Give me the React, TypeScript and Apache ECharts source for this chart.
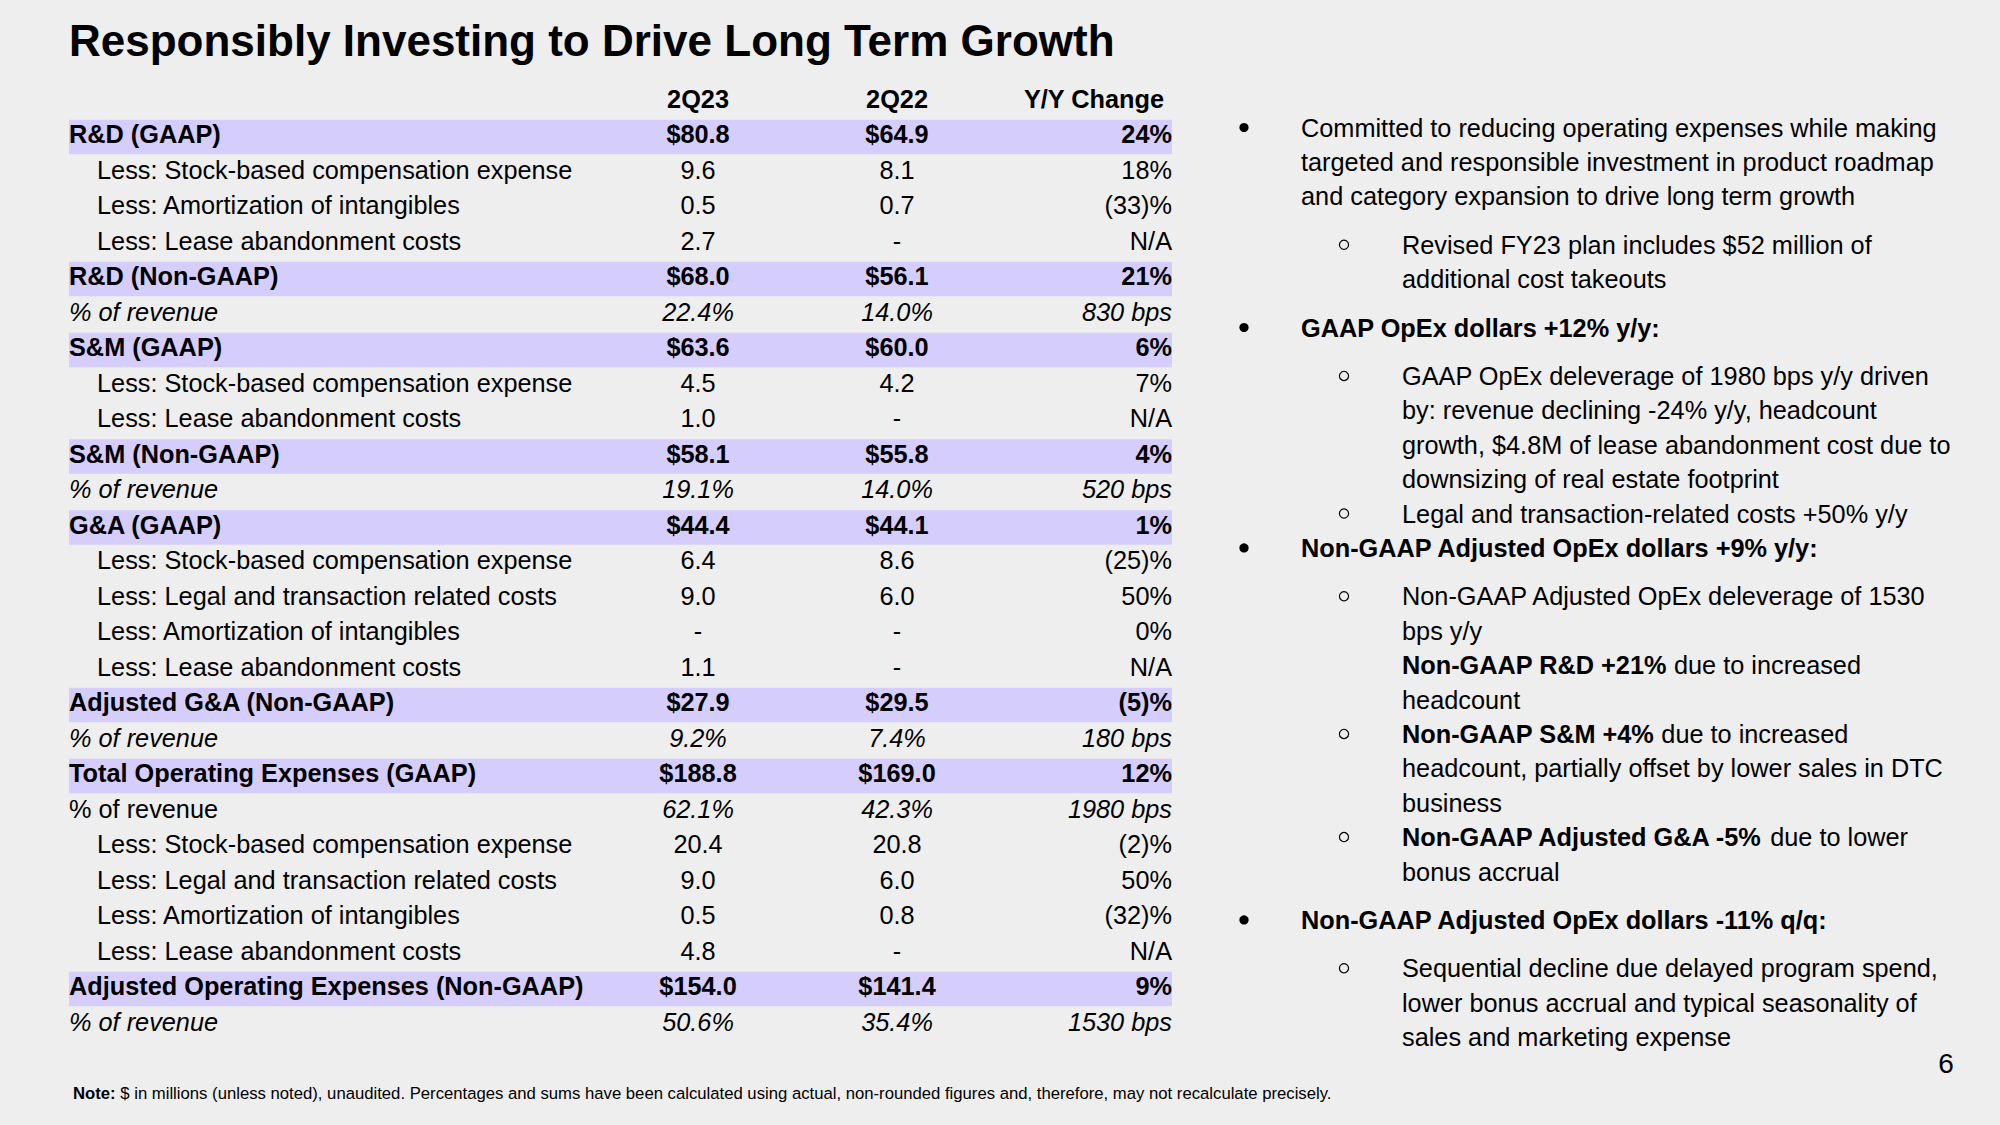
import React, { useEffect, useRef } from "react";
import * as echarts from "echarts";

const FONT = "'Liberation Sans', Arial, Helvetica, sans-serif";
const PURPLE = "#D5CDFB";
const BG = "#EEEEEE";

const titleText = "Responsibly Investing to Drive Long Term Growth";
const columnHeaders = ["2Q23", "2Q22", "Y/Y Change"];

const rowLabels = [
  "R&D (GAAP)",
  "Less: Stock-based compensation expense",
  "Less: Amortization of intangibles",
  "Less: Lease abandonment costs",
  "R&D (Non-GAAP)",
  "% of revenue",
  "S&M (GAAP)",
  "Less: Stock-based compensation expense",
  "Less: Lease abandonment costs",
  "S&M (Non-GAAP)",
  "% of revenue",
  "G&A (GAAP)",
  "Less: Stock-based compensation expense",
  "Less: Legal and transaction related costs",
  "Less: Amortization of intangibles",
  "Less: Lease abandonment costs",
  "Adjusted G&A (Non-GAAP)",
  "% of revenue",
  "Total Operating Expenses (GAAP)",
  "% of revenue",
  "Less: Stock-based compensation expense",
  "Less: Legal and transaction related costs",
  "Less: Amortization of intangibles",
  "Less: Lease abandonment costs",
  "Adjusted Operating Expenses (Non-GAAP)",
  "% of revenue",
];

const rowKinds = [
  "total", "sub", "sub", "sub", "total", "pct",
  "total", "sub", "sub", "total", "pct",
  "total", "sub", "sub", "sub", "sub", "total", "pct",
  "total", "pctPlain", "sub", "sub", "sub", "sub", "total", "pct",
];

const values2Q23 = [
  "$80.8", "9.6", "0.5", "2.7", "$68.0", "22.4%",
  "$63.6", "4.5", "1.0", "$58.1", "19.1%",
  "$44.4", "6.4", "9.0", "-", "1.1", "$27.9", "9.2%",
  "$188.8", "62.1%", "20.4", "9.0", "0.5", "4.8", "$154.0", "50.6%",
];

const values2Q22 = [
  "$64.9", "8.1", "0.7", "-", "$56.1", "14.0%",
  "$60.0", "4.2", "-", "$55.8", "14.0%",
  "$44.1", "8.6", "6.0", "-", "-", "$29.5", "7.4%",
  "$169.0", "42.3%", "20.8", "6.0", "0.8", "-", "$141.4", "35.4%",
];

const yoyChange = [
  "24%", "18%", "(33)%", "N/A", "21%", "830 bps",
  "6%", "7%", "N/A", "4%", "520 bps",
  "1%", "(25)%", "50%", "0%", "N/A", "(5)%", "180 bps",
  "12%", "1980 bps", "(2)%", "50%", "(32)%", "N/A", "9%", "1530 bps",
];

// Right-hand commentary: level 1 = ●, 2 = ○, 0 = continuation line, 3 = sub-level without marker
const noteLevels = [1, 0, 0, 2, 0, 1, 2, 0, 0, 0, 2, 1, 2, 0, 3, 0, 2, 0, 0, 2, 0, 1, 2, 0, 0];
const noteIndent = [1, 1, 1, 2, 2, 1, 2, 2, 2, 2, 2, 1, 2, 2, 2, 2, 2, 2, 2, 2, 2, 1, 2, 2, 2];
const noteGapBefore = [0, 0, 0, 1, 0, 1, 1, 0, 0, 0, 0, 0, 1, 0, 0, 0, 0, 0, 0, 0, 0, 1, 1, 0, 0];
const noteLines = [
  "Committed to reducing operating expenses while making",
  "targeted and responsible investment in product roadmap",
  "and category expansion to drive long term growth",
  "Revised FY23 plan includes $52 million of",
  "additional cost takeouts",
  "{b|GAAP OpEx dollars +12% y/y:}",
  "GAAP OpEx deleverage of 1980 bps y/y driven",
  "by: revenue declining -24% y/y, headcount",
  "growth, $4.8M of lease abandonment cost due to",
  "downsizing of real estate footprint",
  "Legal and transaction-related costs +50% y/y",
  "{b|Non-GAAP Adjusted OpEx dollars +9% y/y:}",
  "Non-GAAP Adjusted OpEx deleverage of 1530",
  "bps y/y",
  "{b|Non-GAAP R&D +21%} due to increased",
  "headcount",
  "{b|Non-GAAP S&M +4%} due to increased",
  "headcount, partially offset by lower sales in DTC",
  "business",
  "{b|Non-GAAP Adjusted G&A -5%} due to lower",
  "bonus accrual",
  "{b|Non-GAAP Adjusted OpEx dollars -11% q/q:}",
  "Sequential decline due delayed program spend,",
  "lower bonus accrual and typical seasonality of",
  "sales and marketing expense",
];

const footNote =
  "{b|Note:} $ in millions (unless noted), unaudited. Percentages and sums have been calculated using actual, non-rounded figures and, therefore, may not recalculate precisely.";
const pageNumber = "6";

const FS = 25.3;
const TEXT_DY = -3;

function textEl(
  text: string,
  x: number,
  y: number,
  align: string,
  bold: boolean,
  italic: boolean,
  size = FS
) {
  return {
    type: "text",
    style: {
      text,
      x,
      y,
      align,
      verticalAlign: "middle",
      textAlign: align,
      textVerticalAlign: "middle",
      fill: "#000",
      fontSize: size,
      fontWeight: bold ? "bold" : "normal",
      fontStyle: italic ? "italic" : "normal",
      fontFamily: FONT,
    },
  };
}

export default function App() {
  const ref = useRef<HTMLDivElement>(null);

  useEffect(() => {
    if (!ref.current) return;
    const chart = echarts.init(ref.current, undefined, { renderer: "svg" });

    const categories = ["header", ...rowLabels];

    const graphics: any[] = [];
    graphics.push({
      type: "text",
      left: 69,
      top: 18,
      style: {
        text: titleText,
        fill: "#000",
        fontSize: 44,
        fontWeight: "bold",
        fontFamily: FONT,
      },
    });

    // commentary
    const L1_TEXT = 1301;
    const L2_TEXT = 1402;
    const L1_BUL = 1244;
    const L2_BUL = 1344;
    const PITCH = 34.4;
    const GAP = 14;
    let y = 127.5;
    noteLines.forEach((line, i) => {
      if (i > 0) y += PITCH + (noteGapBefore[i] ? GAP : 0);
      const lvl = noteLevels[i];
      const tx = noteIndent[i] === 1 ? L1_TEXT : L2_TEXT;
      if (lvl === 1) {
        graphics.push({
          type: "circle",
          shape: { cx: L1_BUL, cy: y, r: 4.6 },
          style: { fill: "#000" },
        });
      } else if (lvl === 2) {
        graphics.push({
          type: "circle",
          shape: { cx: L2_BUL, cy: y, r: 4.6 },
          style: { fill: "none", stroke: "#000", lineWidth: 1.2 },
        });
      }
      graphics.push({
        type: "text",
        x: tx,
        y,
        style: {
          text: line,
          x: 0,
          y: 0,
          align: "left",
          verticalAlign: "middle",
          textAlign: "left",
          textVerticalAlign: "middle",
          fill: "#000",
          fontSize: FS,
          fontFamily: FONT,
          rich: {
            b: { fontWeight: "bold", fontSize: FS, fontFamily: FONT, fill: "#000" },
          },
        },
      });
    });

    graphics.push({
      type: "text",
      x: 73,
      y: 1093,
      style: {
        text: footNote,
        x: 0,
        y: 0,
        align: "left",
        verticalAlign: "middle",
        textAlign: "left",
        textVerticalAlign: "middle",
        fill: "#000",
        fontSize: 16.7,
        fontFamily: FONT,
        rich: {
          b: { fontWeight: "bold", fontSize: 16.7, fontFamily: FONT, fill: "#000" },
        },
      },
    });

    graphics.push({
      type: "text",
      x: 1946,
      y: 1063,
      style: {
        text: pageNumber,
        x: 0,
        y: 0,
        align: "center",
        verticalAlign: "middle",
        textAlign: "center",
        textVerticalAlign: "middle",
        fill: "#000",
        fontSize: 28,
        fontFamily: FONT,
      },
    });

    const option: any = {
      animation: false,
      backgroundColor: BG,
      grid: { left: 69, top: 83.75, width: 1103, height: 958.5, containLabel: false },
      xAxis: { type: "value", min: 0, max: 1, show: false },
      yAxis: { type: "category", data: categories, inverse: true, show: false },
      graphic: graphics,
      series: [
        {
          type: "custom",
          clip: false,
          silent: true,
          data: categories.map((_, i) => [0, i]),
          encode: { x: 0, y: 1 },
          renderItem: (params: any, api: any) => {
            const i = params.dataIndex;
            const cs = params.coordSys;
            const x0 = cs.x;
            const w = cs.width;
            const cy = api.coord([0, i])[1];
            const band = api.size([0, 1])[1];
            const ty = cy + TEXT_DY;
            const c1 = x0 + w * 0.5703;
            const c2 = x0 + w * 0.7507;
            const c3 = x0 + w;
            const children: any[] = [];
            if (i === 0) {
              children.push(textEl(columnHeaders[0], c1, ty, "center", true, false));
              children.push(textEl(columnHeaders[1], c2, ty, "center", true, false));
              children.push(textEl(columnHeaders[2], c3 - 8, ty, "right", true, false));
              return { type: "group", children };
            }
            const r = i - 1;
            const kind = rowKinds[r];
            if (kind === "total") {
              children.push({
                type: "rect",
                shape: { x: x0, y: cy - band / 2 + 0.5, width: w, height: band - 1 },
                style: { fill: PURPLE },
              });
            }
            const bold = kind === "total";
            const labelItalic = kind === "pct";
            const valItalic = kind === "pct" || kind === "pctPlain";
            const lx = kind === "sub" ? x0 + 28 : x0;
            children.push(textEl(rowLabels[r], lx, ty, "left", bold, labelItalic));
            children.push(textEl(values2Q23[r], c1, ty, "center", bold, valItalic));
            children.push(textEl(values2Q22[r], c2, ty, "center", bold, valItalic));
            children.push(textEl(yoyChange[r], c3, ty, "right", bold, valItalic));
            return { type: "group", children };
          },
        },
      ],
    };

    chart.setOption(option);
    return () => chart.dispose();
  }, []);

  return (
    <div
      ref={ref}
      style={{ position: "fixed", left: 0, top: 0, width: 2000, height: 1125 }}
    />
  );
}
